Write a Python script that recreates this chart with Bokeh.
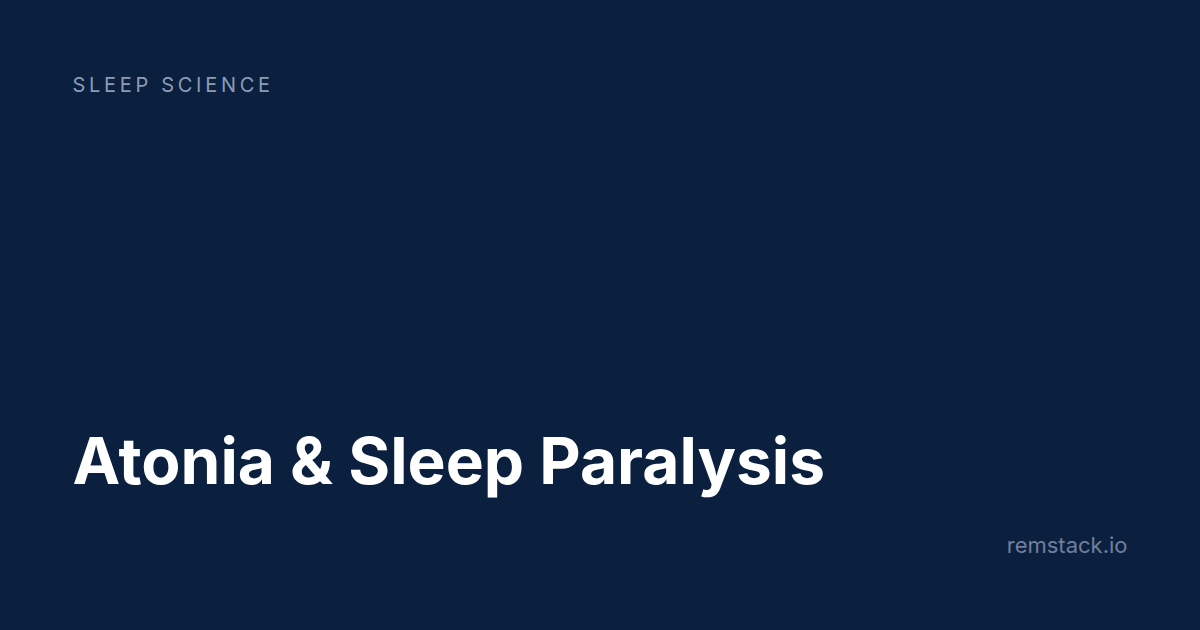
from bokeh.plotting import figure
from bokeh.layouts import column
from bokeh.models import Range1d, GlobalInlineStyleSheet, InlineStyleSheet
from bokeh.core.properties import value
from bokeh.embed import file_html
from bokeh.resources import INLINE

# Content
eyebrow = ["SLEEP SCIENCE"]
title = ["Atonia & Sleep Paralysis"]
site = ["remstack.io"]

BG = "#0b1f3f"
SPLIT = 300


def make_fig(y_top, y_bottom):
    f = figure(width=1200, height=y_bottom - y_top, output_backend="svg", toolbar_location=None,
               x_range=Range1d(0, 1200), y_range=Range1d(y_bottom, y_top),
               min_border=0, background_fill_color=BG, border_fill_color=BG,
               outline_line_color=None)
    f.axis.visible = False
    f.grid.visible = False
    return f


top = make_fig(0, SPLIT)
top.stylesheets = [InlineStyleSheet(css=":host{letter-spacing:3.7px;}")]
bottom = make_fig(SPLIT, 630)

# text baseline offset compensation (~0.4em)
top.text(x=[72], y=[92 - 0.4 * 20], text=eyebrow, text_font=value("Inter"), text_font_size="20px",
         text_color="#8c9cb7", text_baseline="alphabetic", text_align="left")
bottom.text(x=[72], y=[486 - 0.4 * 64], text=title, text_font=value("Inter"), text_font_size="64px",
            text_font_style="bold", text_color="#ffffff", text_baseline="alphabetic", text_align="left")
bottom.text(x=[1127], y=[553 - 0.4 * 22], text=site, text_font=value("Inter"), text_font_size="22px",
            text_color="#6f809d", text_baseline="alphabetic", text_align="right")

layout = column(top, bottom, spacing=0)
layout.stylesheets = [GlobalInlineStyleSheet(css="html,body{margin:0;padding:0;background:%s;}" % BG)]

open("out.html", "w").write(file_html(layout, INLINE))
